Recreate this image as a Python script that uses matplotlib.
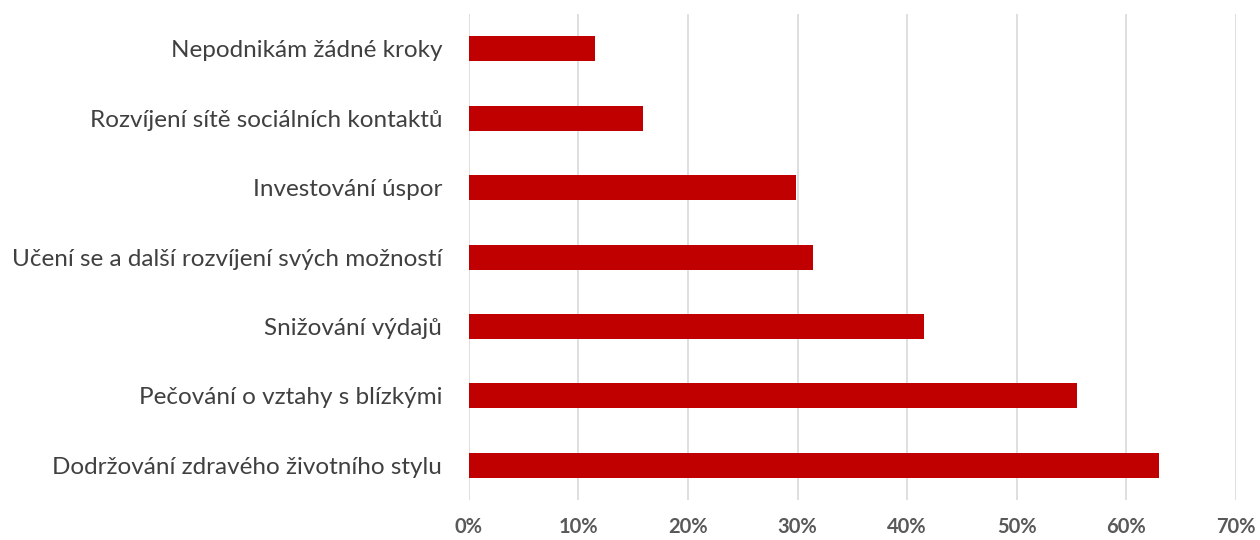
import matplotlib.pyplot as plt
from matplotlib.ticker import FuncFormatter

# Survey categories (top to bottom as shown) and shares in percent
categories = [
    'Nepodnikám žádné kroky',
    'Rozvíjení sítě sociálních kontaktů',
    'Investování úspor',
    'Učení se a další rozvíjení svých možností',
    'Snižování výdajů',
    'Pečování o vztahy s blízkými',
    'Dodržování zdravého životního stylu',
]
values = [11.5, 15.9, 29.9, 31.4, 41.5, 55.5, 63.0]
x_ticks = [0, 10, 20, 30, 40, 50, 60, 70]

plt.rcParams['font.family'] = ['Lato', 'DejaVu Sans']

fig = plt.figure(figsize=(12.6, 5.4), dpi=100)
ax = fig.add_axes([0.372, 0.074, 0.609, 0.9])

pos = list(range(len(categories)))[::-1]
ax.barh(pos, values, height=0.36, color='#C00000', zorder=3)

ax.set_xlim(0, 70)
ax.set_ylim(-0.5, len(categories) - 0.5)
ax.set_xticks(x_ticks)
ax.xaxis.set_major_formatter(FuncFormatter(lambda v, p: f'{v:.0f}%'))
ax.set_yticks(pos)
ax.set_yticklabels(categories)

ax.grid(axis='x', color='#D9D9D9', linewidth=1.2, zorder=0)
for s in ax.spines.values():
    s.set_visible(False)
ax.tick_params(axis='both', length=0)
ax.tick_params(axis='y', pad=19, labelsize=17.5, labelcolor='#404040')
ax.tick_params(axis='x', pad=12, labelsize=14.5, labelcolor='#595959')
for lbl in ax.get_xticklabels():
    lbl.set_fontweight('bold')

fig.savefig('out.png', dpi=100)
